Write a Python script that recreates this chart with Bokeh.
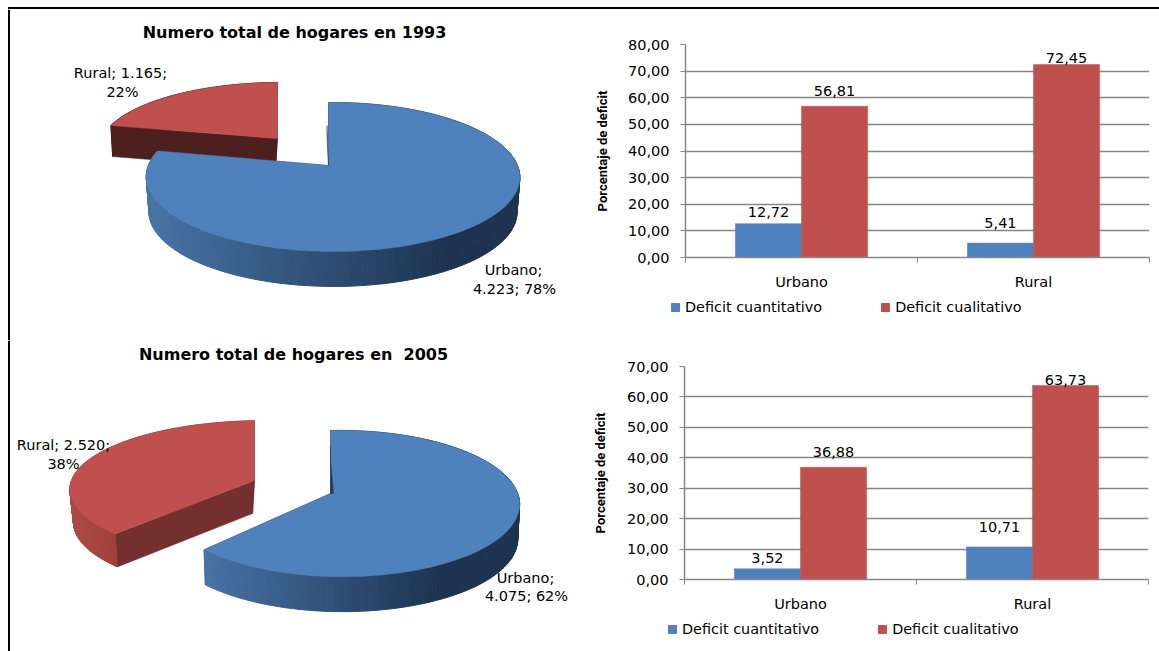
import math
from bokeh.plotting import figure
from bokeh.layouts import column, row
from bokeh.models import Range1d, FixedTicker, Span, Legend, LegendItem, Div
from bokeh.core.properties import value
from bokeh.embed import file_html
from bokeh.resources import INLINE

# ---- data ----
pie_categories = ["Urbano", "Rural"]
hogares_1993 = [4223, 1165]
hogares_2005 = [4075, 2520]
bar_categories = ["Urbano", "Rural"]
cuantitativo_1993 = [12.72, 5.41]
cualitativo_1993 = [56.81, 72.45]
cuantitativo_2005 = [3.52, 10.71]
cualitativo_2005 = [36.88, 63.73]
ticks_1993 = [0, 10, 20, 30, 40, 50, 60, 70, 80]
ticks_2005 = [0, 10, 20, 30, 40, 50, 60, 70]
series_names = ["Deficit cuantitativo", "Deficit cualitativo"]
y_axis_title = "Porcentaje de deficit"
title_1993 = "Numero total de hogares en 1993"
title_2005 = "Numero total de hogares en \u00a02005"

BLUE, RED = "#4f81bd", "#c0504d"
FONT, NARROW = "DejaVu Sans", "Roboto"


def es(v, d=2):
    return f"{v:.{d}f}".replace(".", ",")


def miles(v):
    return f"{v:,}".replace(",", ".")


def mix(a, b, t):
    t = max(0.0, min(1.0, t))
    return "#%02x%02x%02x" % tuple(round(a[i] + (b[i] - a[i]) * t) for i in range(3))


def wedge(ax, cfg, start, end, top, side_l, side_r, cut):
    """Draw one extruded pie slice; start/end are clockwise fractions of the circle."""
    def proj(u, v):
        d = 1 + cfg["k"] * v + cfg["m"] * u
        return cfg["x"] + cfg["B"] * u / d, cfg["y"] - cfg["A"] * v / d

    def drop(pt):
        return cfg["xc"] + (pt[0] - cfg["xc"]) * cfg["s"], pt[1] + cfg["depth"]

    n = 160
    th = [2 * math.pi * (start + (end - start) * i / n) for i in range(n + 1)]
    arc = [proj(math.sin(t), math.cos(t)) for t in th]
    apex = proj(0, 0)
    for edge in (arc[0], arc[-1]):
        pts = [apex, edge, drop(edge), drop(apex)]
        ax.patch([p[0] for p in pts], [p[1] for p in pts], fill_color=cut, line_color=cut, line_width=0.5)
    lo, hi = cfg["grad"]
    xs, ys, cs = [], [], []
    for a, b in zip(arc[:-1], arc[1:]):
        q = [a, b, drop(b), drop(a)]
        xs.append([p[0] for p in q])
        ys.append([p[1] for p in q])
        cs.append(mix(side_l, side_r, ((a[0] + b[0]) / 2 - lo) / (hi - lo)))
    ax.patches(xs, ys, fill_color=cs, line_color=cs, line_width=1)
    poly = [apex] + arc
    ax.patch([p[0] for p in poly], [p[1] for p in poly], fill_color=top, line_color=top, line_width=0.5)
    return proj


def pie_figure(y_top, y_bottom, title, title_xy, values, blue, red, labels):
    ax = figure(width=580, height=round(y_bottom - y_top), output_backend="svg", toolbar_location=None,
                x_range=Range1d(0, 580), y_range=Range1d(y_bottom, y_top), frame_align=False,
                min_border=0, min_border_left=0, min_border_right=0, min_border_top=0, min_border_bottom=0,
                outline_line_color=None, tools="")
    ax.axis.visible = False
    ax.grid.visible = False
    share = values[0] / sum(values)
    wedge(ax, red, share, 1.0, RED, red["sl"], red["sr"], red["cut"])
    proj = wedge(ax, blue, 0.0, share, BLUE, (72, 116, 166), (29, 51, 80), "#1f3a5c")
    a, b, c = proj(0, 0), proj(0, blue["sl"][0]), proj(0, blue["sl"][1])
    sx = blue["sl"][3]
    ax.patch([b[0] + sx, c[0] + sx, a[0] + blue["sl"][2], a[0]], [b[1], c[1], a[1], a[1]],
             fill_color="#1f3a5c", line_color="#1f3a5c", line_width=0.5)
    ax.text([title_xy[0]], [title_xy[1]], text=[title], text_font=value(FONT), text_font_style="bold",
            text_font_size="16px", text_align="center", text_baseline="middle", text_color="#000000")
    ax.text([l[0] for l in labels], [l[1] for l in labels], text=[l[2] for l in labels], text_font=value(FONT),
            text_font_size="14.5px", text_align="center", text_baseline="middle", text_color="#000000")
    ax.add_layout(Span(location=8.5, dimension="height", line_color="#000000", line_width=2))
    return ax


def bar_figure(y_height, b_left, b_right, b_top, b_bottom, ymax, ticks, s1, s2, offsets, label_standoff):
    ax = figure(width=579, height=y_height, output_backend="svg", toolbar_location=None,
                x_range=Range1d(0, len(bar_categories)), y_range=Range1d(0, ymax), frame_align=False,
                min_border_left=b_left, min_border_right=b_right, min_border_top=b_top, min_border_bottom=b_bottom,
                outline_line_color=None, tools="")
    w = 0.285
    pos = [i + 0.5 for i in range(len(bar_categories))]
    ax.vbar(x=[p - w / 2 for p in pos], top=s1, width=w, fill_color=BLUE, line_color=BLUE, line_width=0.5)
    ax.vbar(x=[p + w / 2 for p in pos], top=s2, width=w, fill_color=RED, line_color=RED, line_width=0.5)
    for xs, vals, offs in ((-w / 2, s1, offsets[0]), (w / 2, s2, offsets[1])):
        for p, v, o in zip(pos, vals, offs):
            ax.text([p + xs], [v], text=[es(v)], text_font=value(FONT), text_font_size="14.5px",
                    text_align="center", text_baseline="bottom", y_offset=o, text_color="#000000")
    ax.xgrid.visible = False
    ax.ygrid.grid_line_color = "#868686"
    ax.ygrid.grid_line_width = 1.5
    ax.yaxis.ticker = FixedTicker(ticks=ticks)
    ax.yaxis.major_label_overrides = {t: es(t) for t in ticks}
    ax.yaxis.major_tick_in = 0
    ax.yaxis.major_tick_out = 5
    ax.yaxis.minor_tick_line_color = None
    ax.yaxis.major_tick_line_color = "#868686"
    ax.yaxis.axis_line_color = "#868686"
    ax.yaxis.axis_line_width = 1.5
    ax.yaxis.major_label_text_font = FONT
    ax.yaxis.major_label_text_font_size = "14.5px"
    ax.yaxis.major_label_text_color = "#000000"
    ax.yaxis.major_label_standoff = 11
    ax.yaxis.axis_label = y_axis_title
    ax.yaxis.axis_label_text_font = NARROW
    ax.yaxis.axis_label_text_font_style = "bold"
    ax.yaxis.axis_label_text_font_size = "13px"
    ax.yaxis.axis_label_text_color = "#000000"
    ax.yaxis.axis_label_standoff = label_standoff
    ax.xaxis.ticker = FixedTicker(ticks=pos, minor_ticks=list(range(len(bar_categories) + 1)))
    ax.xaxis.major_label_overrides = {p: c for p, c in zip(pos, bar_categories)}
    ax.xaxis.major_tick_in = 0
    ax.xaxis.major_tick_out = 0
    ax.xaxis.minor_tick_in = 0
    ax.xaxis.minor_tick_out = 5
    ax.xaxis.minor_tick_line_color = "#868686"
    ax.xaxis.axis_line_color = "#868686"
    ax.xaxis.axis_line_width = 1.5
    ax.xaxis.major_label_text_font = FONT
    ax.xaxis.major_label_text_font_size = "14.5px"
    ax.xaxis.major_label_text_color = "#000000"
    ax.xaxis.major_label_standoff = 11
    return ax


def legend_figure(height, loc, s1, s2):
    ax = figure(width=579, height=height, output_backend="svg", toolbar_location=None, frame_align=False,
                x_range=Range1d(0, 1), y_range=Range1d(0, 1), min_border=0, min_border_left=0, min_border_right=0,
                min_border_top=0, min_border_bottom=0, outline_line_color=None, tools="")
    ax.axis.visible = False
    ax.grid.visible = False
    idx = list(range(len(s1)))
    r1 = ax.vbar(x=idx, top=s1, width=0.1, fill_color=BLUE, line_color=BLUE, visible=False)
    r2 = ax.vbar(x=idx, top=s2, width=0.1, fill_color=RED, line_color=RED, visible=False)
    leg = Legend(items=[LegendItem(label=series_names[0], renderers=[r1]), LegendItem(label=series_names[1], renderers=[r2])],
                 orientation="horizontal", location=loc, background_fill_alpha=0, border_line_color=None,
                 inactive_fill_alpha=0, glyph_width=10, glyph_height=10, label_standoff=5, spacing=58, padding=0, margin=0,
                 label_text_font=FONT, label_text_font_size="14.4px", label_text_color="#000000")
    ax.add_layout(leg)
    return ax


blue_93 = dict(x=328, y=165, k=0.154, m=-0.024, A=72.7, B=184.5, depth=35, xc=328, s=0.985, grad=(145, 450), sl=(0.6, 0.42, 0, -1.5))
red_93 = dict(x=277, y=138, k=0.154, m=-0.024, A=64.7, B=180, depth=31, xc=190, s=0.977, grad=(100, 280),
              sl=(77, 31, 30), sr=(77, 31, 30), cut="#4d1f1e")
blue_05 = dict(x=330, y=493, k=0.137, m=-0.06, A=71.6, B=176, depth=35, xc=330, s=0.99, grad=(200, 440), sl=(0.72, 0.5, 3, 0))
red_05 = dict(x=254, y=480, k=0.137, m=-0.06, A=68, B=194, depth=33, xc=190, s=0.97, grad=(72, 115),
              sl=(172, 74, 69), sr=(156, 63, 59), cut="#74302e")


def pct(vals, i):
    return f"{round(100 * vals[i] / sum(vals))}%"


labels_93 = [
    (120, 72, f"{pie_categories[1]}; {miles(hogares_1993[1])};"), (122, 91, pct(hogares_1993, 1)),
    (513, 269, f"{pie_categories[0]};"), (514, 288, f"{miles(hogares_1993[0])}; {pct(hogares_1993, 0)}"),
]
labels_05 = [
    (63, 444, f"{pie_categories[1]}; {miles(hogares_2005[1])};"), (63, 463, pct(hogares_2005, 1)),
    (525, 577, f"{pie_categories[0]};"), (526, 595, f"{miles(hogares_2005[0])}; {pct(hogares_2005, 0)}"),
]

pie1 = pie_figure(9, 340, title_1993, (294, 32), hogares_1993, blue_93, red_93, labels_93)
pie2 = pie_figure(340, 651, title_2005, (293, 354), hogares_2005, blue_05, red_05, labels_05)

bar1 = bar_figure(283, 105, 10, 35, 35, 80, ticks_1993, cuantitativo_1993, cualitativo_1993,
                  [[-7, -15], [-10, -2]], 15)
bar2 = bar_figure(274, 104, 11, 26, 35, 70, ticks_2005, cuantitativo_2005, cualitativo_2005,
                  [[-6, -15], [-10, -1]], 16)
leg1 = legend_figure(48, (90, 25), cuantitativo_1993, cualitativo_1993)
leg2 = legend_figure(37, (87, 14), cuantitativo_2005, cualitativo_2005)

frame_top = Div(text="", width=1151, height=2, margin=(7, 0, 0, 8), styles={"background-color": "#000000"})
page = column(frame_top,
              row(pie1, column(bar1, leg1, spacing=0), spacing=0),
              row(pie2, column(bar2, leg2, spacing=0), spacing=0), spacing=0)

open("out.html", "w").write(file_html(page, INLINE))
